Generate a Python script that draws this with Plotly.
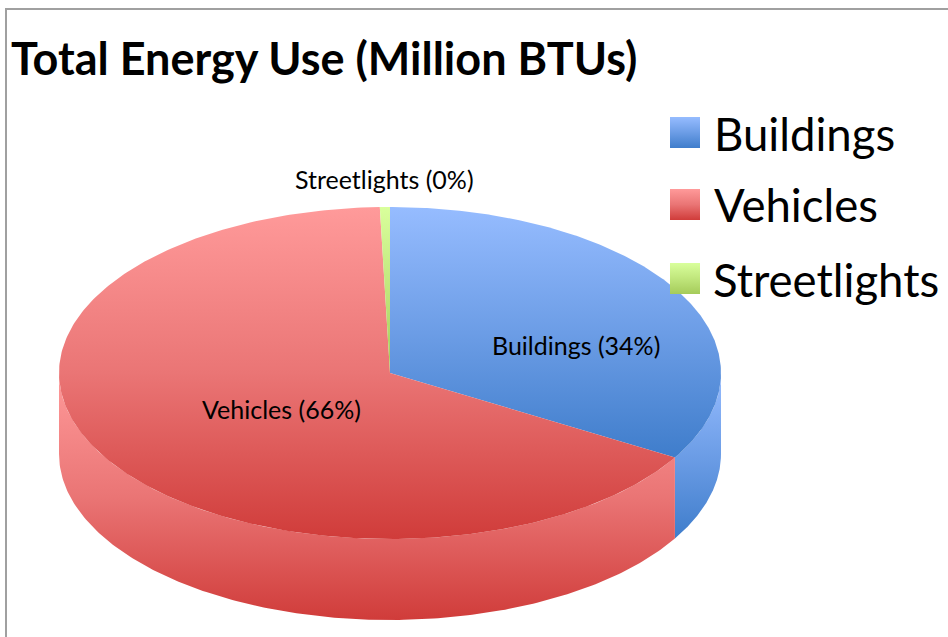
import numpy as np
import plotly.graph_objects as go

title = "Total Energy Use (Million BTUs)"
categories = ["Buildings", "Vehicles", "Streetlights"]
values = [33.5, 66.01, 0.49]
top_colors = ["#96BCFF", "#FF9A9A", "#D9FF9C"]
mid_colors = ["#6C9DE6", "#EA7575", "#C0E67C"]
bottom_colors = ["#3F7DCB", "#D03C3A", "#A5CB5A"]
label_pos = [(576, 345), (281, 409), (384, 179)]
legend_y = [(117, 148), (189, 220), (263, 294)]
legend_text_y = [133, 204, 279]
legend_text_x = [712, 712, 711]

CX, CY, RX, RY, DEPTH = 390, 373, 331, 166, 81
FONT = "Lato"


def ellipse(a, depth=0):
    return CX + RX * np.sin(a), CY + depth - RY * np.cos(a)


def grad(i):
    return dict(type="vertical",
                colorscale=[[0, bottom_colors[i]], [0.5, mid_colors[i]],
                            [1, top_colors[i]]])


def poly(x, y, i, name):
    return go.Scatter(x=x, y=y, mode="lines", fill="toself", name=name,
                      line=dict(width=0), fillgradient=grad(i),
                      hoverinfo="skip", showlegend=False)


total = sum(values)
edges = np.concatenate([[0], np.cumsum(values)]) / total * 2 * np.pi

fig = go.Figure()

# Side walls: only the near half (90 to 270 degrees) is visible
for i in range(len(values)):
    lo = max(edges[i], np.pi / 2)
    hi = min(edges[i + 1], 3 * np.pi / 2)
    if hi <= lo:
        continue
    a = np.linspace(lo, hi, 200)
    x1, y1 = ellipse(a)
    x2, y2 = ellipse(a[::-1], DEPTH)
    fig.add_trace(poly(np.r_[x1, x2], np.r_[y1, y2], i, categories[i] + " side"))

# Top faces
for i in range(len(values)):
    a = np.linspace(edges[i], edges[i + 1], 300)
    x, y = ellipse(a)
    fig.add_trace(poly(np.r_[CX, x, CX], np.r_[CY, y, CY], i, categories[i]))

# Legend swatches
for i, (y0, y1) in enumerate(legend_y):
    fig.add_trace(poly([670, 700, 700, 670, 670], [y0, y0, y1, y1, y0], i,
                       categories[i] + " key"))

annotations = [dict(x=9, y=58, text=f"<b>{title}</b>", showarrow=False,
                    xanchor="left", yanchor="middle",
                    font=dict(family=FONT, size=45, color="black"))]
for i, c in enumerate(categories):
    pct = round(values[i] / total * 100)
    annotations.append(dict(x=label_pos[i][0], y=label_pos[i][1],
                            text=f"{c} ({pct}%)", showarrow=False,
                            xanchor="center", yanchor="middle",
                            font=dict(family=FONT, size=25, color="black")))
    annotations.append(dict(x=legend_text_x[i], y=legend_text_y[i], text=c,
                            showarrow=False, xanchor="left", yanchor="middle",
                            font=dict(family=FONT, size=45.5, color="black")))

frame = dict(color="#A0A0A0", width=2)
fig.update_layout(
    width=948, height=637, margin=dict(l=0, r=0, t=0, b=0),
    paper_bgcolor="white", plot_bgcolor="white", showlegend=False,
    xaxis=dict(range=[0, 948], visible=False, fixedrange=True),
    yaxis=dict(range=[637, 0], visible=False, fixedrange=True),
    annotations=annotations,
    shapes=[
        dict(type="line", x0=5, x1=948, y0=9, y1=9, line=frame, layer="below"),
        dict(type="line", x0=6, x1=6, y0=8, y1=637, line=frame, layer="below"),
    ],
)
fig.write_html("out.html", config={"displayModeBar": False},
               post_script="document.body.style.margin='0';document.documentElement.style.overflow='hidden';")
